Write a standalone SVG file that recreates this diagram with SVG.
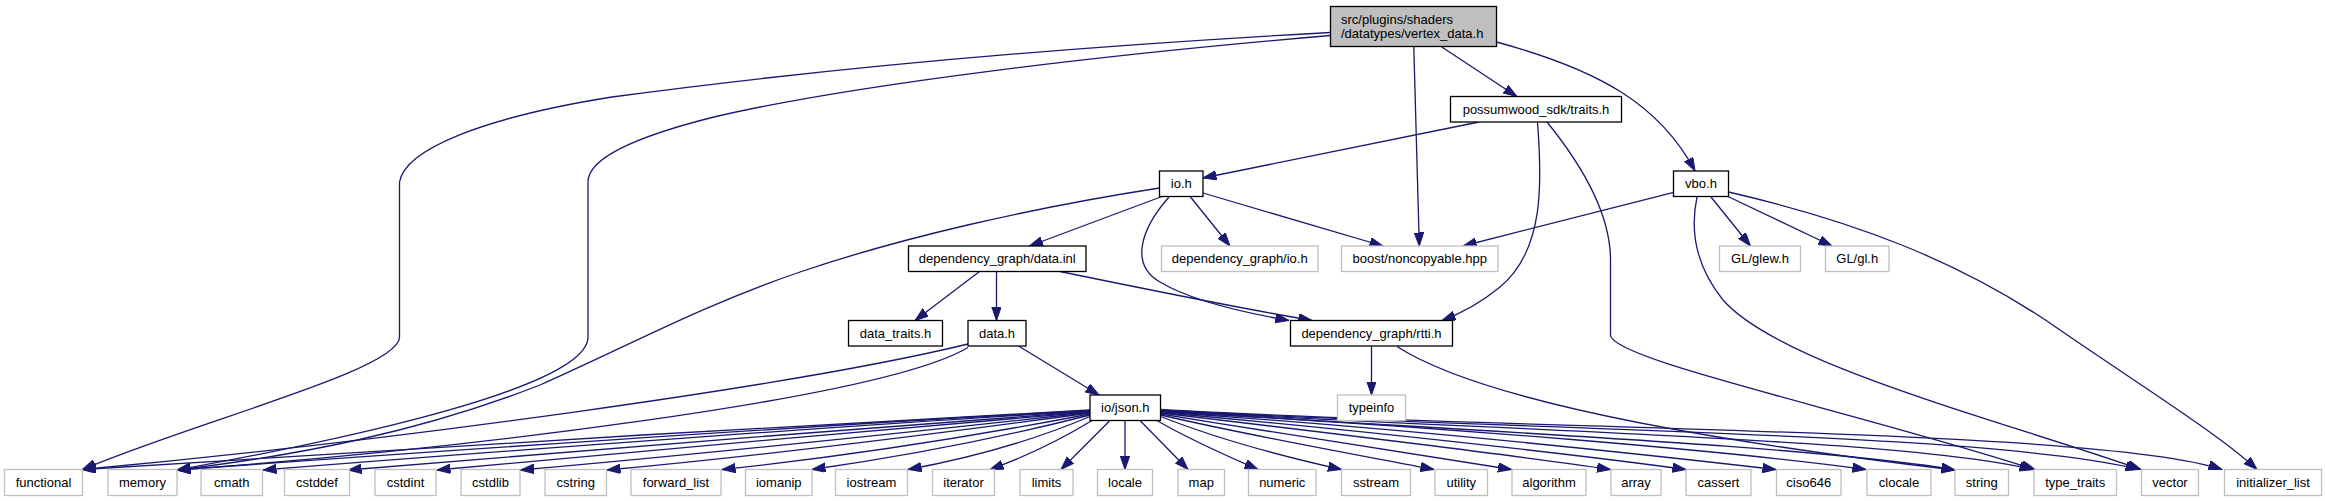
<svg xmlns="http://www.w3.org/2000/svg" width="2325" height="501" viewBox="0 0 2325 501">
<style>
.n rect{fill:#fff;stroke:#000;stroke-width:1.3}
.g rect{fill:#fff;stroke:#bfbfbf;stroke-width:1.3}
.r rect{fill:#bfbfbf;stroke:#000;stroke-width:1.3}
text{font-family:"Liberation Sans",Arial,sans-serif;font-size:13px;fill:#000}
.c{text-anchor:middle}
#edges path{fill:none;stroke:#191970;stroke-width:1.3;marker-end:url(#ah)}
</style>
<defs>
<marker id="ah" markerWidth="14" markerHeight="10" refX="13.5" refY="4.7" orient="auto" markerUnits="userSpaceOnUse"><path d="M0,0 L13.5,4.7 L0,9.4 Z" fill="#191970" stroke="#191970" stroke-width="1"/></marker>
</defs>
<rect width="2325" height="501" fill="#fff"/>
<g id="edges">
<path d="M1330.5,32.5 C1100,45 850,65 612,97 C480,118 405,150 399.5,182 L399.5,337 C399.5,370 200,420 82.5,469.5"/>
<path d="M1330.5,35.5 C1100,55 850,85 714,117 C650,133 588,155 588,182 L588,337 C588,375 450,420 177,470"/>
<path d="M1159.5,188 C1030,208 900,238 800,272 C700,306 620,350 540,385 C420,432 300,455 177,470"/>
<path d="M1413.8,47 L1419.3,246"/>
<path d="M1441.8,47 L1516.8,96.5"/>
<path d="M1496.5,42 C1600,70 1660,105 1695,171"/>
<path d="M1479,122 L1203,178"/>
<path d="M1537.5,122 C1542,180 1545,250 1500,287 C1483,301 1462,313 1442,320.5"/>
<path d="M1547,122 C1590,175 1610.5,220 1610.5,260 L1610.5,335 C1612,360 1850,410 2035,469.5"/>
<path d="M1162,196.5 L1029.5,246"/>
<path d="M1169,197 C1140,230 1130,265 1160,282 C1190,300 1240,312 1289,320.5"/>
<path d="M1190.5,197 L1230,246"/>
<path d="M1203,193 L1383,246"/>
<path d="M1673.7,192.3 L1463,246"/>
<path d="M1711,197 L1750.5,246"/>
<path d="M1728,196.5 L1832,246"/>
<path d="M1697,197 C1690,230 1695,265 1723,300 C1780,365 2000,420 2141,469.5"/>
<path d="M1728.5,192 C1850,220 1960,260 2060,330 C2140,385 2220,435 2257,469.5"/>
<path d="M979.5,271.5 L915,320.5"/>
<path d="M996.5,271.5 L996.5,320.5"/>
<path d="M1060,271.5 C1150,290 1250,310 1312,320.5"/>
<path d="M1018.5,346 L1099,395"/>
<path d="M1371.5,346 L1371.5,395"/>
<path d="M1397,346.5 C1480,400 1700,440 1955,470"/>
<path d="M968,344 C800,385 400,440 82.5,469.5"/>
<path d="M968,347.5 C880,400 450,450 177,470"/>
<path d="M1090,410 C800,425 300,455 82.5,469.5"/>
<path d="M1090,410.5 C820,425 380,455 177,470"/>
<path d="M1090,411 C850,425 450,455 263,470"/>
<path d="M1090,411.5 C880,427 520,455 348,470"/>
<path d="M1090,412 C900,428 600,455 437,470"/>
<path d="M1090,412.5 C930,430 680,456 520.5,470"/>
<path d="M1090,413 C950,432 760,456 607,470"/>
<path d="M1090,414 C980,435 850,456 722,469.5"/>
<path d="M1090,415 C1000,438 900,457 812,469.5"/>
<path d="M1090,416.5 C1030,442 970,458 908,469.5"/>
<path d="M1092,420.5 C1060,440 1030,455 990,469.5"/>
<path d="M1110,420.5 L1061,469.5"/>
<path d="M1125,420.5 L1125,469.5"/>
<path d="M1140,420.5 L1188,469.5"/>
<path d="M1157,420.5 C1190,440 1225,455 1258,469.5"/>
<path d="M1160.7,416.5 C1220,440 1290,458 1341.5,469.5"/>
<path d="M1160.7,415 C1260,438 1370,457 1434,469.5"/>
<path d="M1160.7,414 C1290,435 1430,456 1511.5,469.5"/>
<path d="M1160.7,413 C1330,433 1520,456 1610.5,469.5"/>
<path d="M1160.7,412.5 C1360,430 1580,455 1686,469.5"/>
<path d="M1160.7,412 C1400,428 1650,455 1776,469.5"/>
<path d="M1160.7,411.5 C1450,427 1740,452 1866,469.5"/>
<path d="M1160.7,411 C1450,430 1820,446 1955,470"/>
<path d="M1160.7,410.5 C1480,430 1900,438 2033,469.5"/>
<path d="M1160.7,410 C1500,430 1990,432 2139,469.5"/>
<path d="M1160.7,409.5 C1500,430 2100,428 2222,469.5"/>
</g>
<g id="root" class="r"><rect x="1330.5" y="6.5" width="166" height="40"/><text x="1341" y="23.5">src/plugins/shaders</text><text x="1341" y="37.5">/datatypes/vertex_data.h</text></g>
<g id="traits" class="n"><rect x="1450.5" y="96.5" width="171" height="25.5"/><text class="c" x="1536" y="113.5">possumwood_sdk/traits.h</text></g>
<g id="io_h" class="n"><rect x="1159.5" y="171" width="43.5" height="25.5"/><text class="c" x="1181.25" y="188">io.h</text></g>
<g id="vbo_h" class="n"><rect x="1673.5" y="171" width="55" height="25.5"/><text class="c" x="1701" y="188">vbo.h</text></g>
<g id="data_inl" class="n"><rect x="908.5" y="246" width="177.5" height="25.5"/><text class="c" x="997.25" y="263">dependency_graph/data.inl</text></g>
<g id="dg_io_h" class="g"><rect x="1161.5" y="246" width="156.5" height="25.5"/><text class="c" x="1239.75" y="263">dependency_graph/io.h</text></g>
<g id="noncopyable" class="g"><rect x="1341.5" y="246" width="156.5" height="25.5"/><text class="c" x="1419.75" y="263">boost/noncopyable.hpp</text></g>
<g id="glew" class="g"><rect x="1719.5" y="246" width="81" height="25.5"/><text class="c" x="1760" y="263">GL/glew.h</text></g>
<g id="gl" class="g"><rect x="1825.5" y="246" width="63.5" height="25.5"/><text class="c" x="1857.25" y="263">GL/gl.h</text></g>
<g id="data_traits" class="n"><rect x="848.5" y="320.5" width="94" height="25.5"/><text class="c" x="895.5" y="337.5">data_traits.h</text></g>
<g id="data_h" class="n"><rect x="968" y="320.5" width="58" height="25.5"/><text class="c" x="997" y="337.5">data.h</text></g>
<g id="rtti" class="n"><rect x="1290.5" y="320.5" width="162" height="25.5"/><text class="c" x="1371.5" y="337.5">dependency_graph/rtti.h</text></g>
<g id="json" class="n"><rect x="1090" y="395" width="70.5" height="25.5"/><text class="c" x="1125.25" y="412">io/json.h</text></g>
<g id="typeinfo" class="g"><rect x="1337.5" y="395" width="68" height="25.5"/><text class="c" x="1371.5" y="412">typeinfo</text></g>
<g id="functional" class="g"><rect x="4.5" y="469.5" width="78" height="26"/><text class="c" x="43.5" y="487">functional</text></g>
<g id="memory" class="g"><rect x="108" y="469.5" width="69" height="26"/><text class="c" x="142.5" y="487">memory</text></g>
<g id="cmath" class="g"><rect x="201" y="469.5" width="61.5" height="26"/><text class="c" x="231.75" y="487">cmath</text></g>
<g id="cstddef" class="g"><rect x="284.5" y="469.5" width="65" height="26"/><text class="c" x="317" y="487">cstddef</text></g>
<g id="cstdint" class="g"><rect x="375" y="469.5" width="61" height="26"/><text class="c" x="405.5" y="487">cstdint</text></g>
<g id="cstdlib" class="g"><rect x="461" y="469.5" width="59" height="26"/><text class="c" x="490.5" y="487">cstdlib</text></g>
<g id="cstring" class="g"><rect x="545" y="469.5" width="61.5" height="26"/><text class="c" x="575.75" y="487">cstring</text></g>
<g id="forward_list" class="g"><rect x="631" y="469.5" width="90" height="26"/><text class="c" x="676" y="487">forward_list</text></g>
<g id="iomanip" class="g"><rect x="745.5" y="469.5" width="66.5" height="26"/><text class="c" x="778.75" y="487">iomanip</text></g>
<g id="iostream" class="g"><rect x="835.5" y="469.5" width="72" height="26"/><text class="c" x="871.5" y="487">iostream</text></g>
<g id="iterator" class="g"><rect x="932.5" y="469.5" width="62" height="26"/><text class="c" x="963.5" y="487">iterator</text></g>
<g id="limits" class="g"><rect x="1020" y="469.5" width="53" height="26"/><text class="c" x="1046.5" y="487">limits</text></g>
<g id="locale" class="g"><rect x="1097.5" y="469.5" width="55" height="26"/><text class="c" x="1125" y="487">locale</text></g>
<g id="map" class="g"><rect x="1178" y="469.5" width="46.5" height="26"/><text class="c" x="1201.25" y="487">map</text></g>
<g id="numeric" class="g"><rect x="1248.5" y="469.5" width="67.5" height="26"/><text class="c" x="1282.25" y="487">numeric</text></g>
<g id="sstream" class="g"><rect x="1341.5" y="469.5" width="69" height="26"/><text class="c" x="1376" y="487">sstream</text></g>
<g id="utility" class="g"><rect x="1435" y="469.5" width="52.5" height="26"/><text class="c" x="1461.25" y="487">utility</text></g>
<g id="algorithm" class="g"><rect x="1512" y="469.5" width="74" height="26"/><text class="c" x="1549" y="487">algorithm</text></g>
<g id="array" class="g"><rect x="1611" y="469.5" width="50" height="26"/><text class="c" x="1636" y="487">array</text></g>
<g id="cassert" class="g"><rect x="1686" y="469.5" width="65" height="26"/><text class="c" x="1718.5" y="487">cassert</text></g>
<g id="ciso646" class="g"><rect x="1776.5" y="469.5" width="64.5" height="26"/><text class="c" x="1808.75" y="487">ciso646</text></g>
<g id="clocale" class="g"><rect x="1867" y="469.5" width="64" height="26"/><text class="c" x="1899" y="487">clocale</text></g>
<g id="string" class="g"><rect x="1955" y="469.5" width="53.5" height="26"/><text class="c" x="1981.75" y="487">string</text></g>
<g id="type_traits" class="g"><rect x="2034" y="469.5" width="82.5" height="26"/><text class="c" x="2075.25" y="487">type_traits</text></g>
<g id="vector" class="g"><rect x="2141.5" y="469.5" width="57" height="26"/><text class="c" x="2170" y="487">vector</text></g>
<g id="initializer_list" class="g"><rect x="2224.5" y="469.5" width="97" height="26"/><text class="c" x="2273" y="487">initializer_list</text></g>
</svg>
